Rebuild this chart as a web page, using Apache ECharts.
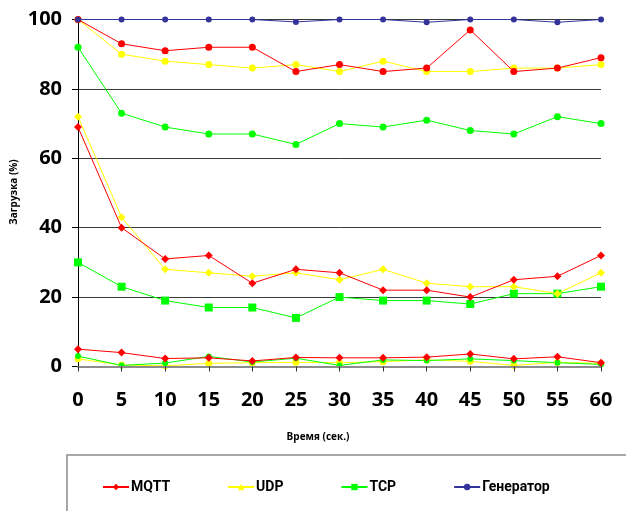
<!DOCTYPE html>
<html>
<head>
<meta charset="utf-8">
<script src="https://cdn.jsdelivr.net/npm/echarts@6/dist/echarts.min.js"></script>
<style>
  html, body { margin: 0; padding: 0; background: #fff; }
  #chart { width: 626px; height: 511px; }
</style>
</head>
<body>
<div id="chart"></div>
<script>
// Time axis (seconds)
const timeLabels = ['0', '5', '10', '15', '20', '25', '30', '35', '40', '45', '50', '55', '60'];

// Load (%) per protocol, three runs each
const mqttHigh = [100, 93, 91, 92, 92, 85, 87, 85, 86, 97, 85, 86, 89];
const mqttMid  = [69, 40, 31, 32, 24, 28, 27, 22, 22, 20, 25, 26, 32];
const mqttLow  = [5, 4, 2.3, 2.5, 1.6, 2.6, 2.5, 2.5, 2.7, 3.6, 2.2, 2.8, 1.1];

const udpHigh = [100, 90, 88, 87, 86, 87, 85, 88, 85, 85, 86, 86, 87];
const udpMid  = [72, 43, 28, 27, 26, 27, 25, 28, 24, 23, 23, 21, 27];
const udpLow  = [2.2, 0.4, 0.2, 0.9, 1.1, 1.2, 1.1, 1.4, 1.9, 1.5, 0.3, 1.2, 0.9];

const tcpHigh = [92, 73, 69, 67, 67, 64, 70, 69, 71, 68, 67, 72, 70];
const tcpMid  = [30, 23, 19, 17, 17, 14, 20, 19, 19, 18, 21, 21, 23];
const tcpLow  = [3, 0.3, 1.0, 2.9, 1.3, 2.4, 0.3, 1.9, 1.7, 2.2, 1.7, 1.1, 0.6];

const generator = [100, 100, 100, 100, 100, 99.3, 100, 100, 99.2, 100, 100, 99.2, 100];

const yTicks = { min: 0, max: 100, interval: 20 };

const RED = '#ff0000', YELLOW = '#ffff00', GREEN = '#00ff00', BLUE = '#333399';
const FONT = '"Open Sans", "DejaVu Sans", sans-serif';
const LEGEND_FONT = 'Roboto, "Open Sans", sans-serif';

function line(name, data, color, symbol, size, z) {
  return {
    name: name,
    type: 'line',
    data: data,
    symbol: symbol,
    symbolSize: size,
    showSymbol: true,
    lineStyle: { color: color, width: 1 },
    itemStyle: { color: color },
    emphasis: { disabled: true },
    animation: false,
    z: z || 2
  };
}

const chart = echarts.init(document.getElementById('chart'), null, { renderer: 'canvas' });

chart.setOption({
  backgroundColor: '#ffffff',
  animation: false,
  grid: { left: 78, right: 25, top: 19.5, bottom: 144.5, containLabel: false },
  xAxis: {
    type: 'category',
    data: timeLabels,
    boundaryGap: false,
    axisLine: { show: true, lineStyle: { color: '#8c8c8c', width: 2 } },
    axisTick: { show: true, alignWithLabel: true, length: 5, lineStyle: { color: '#333', width: 1 } },
    axisLabel: { fontFamily: FONT, fontWeight: 'bold', fontSize: 20, color: '#000', margin: 24 },
    splitLine: { show: false },
    z: 3
  },
  yAxis: {
    type: 'value',
    min: yTicks.min,
    max: yTicks.max,
    interval: yTicks.interval,
    axisLine: { show: true, onZero: false, lineStyle: { color: '#000', width: 1 } },
    axisTick: { show: true, length: 6, lineStyle: { color: '#000' } },
    axisLabel: { fontFamily: FONT, fontWeight: 'bold', fontSize: 20, color: '#000', margin: 16 },
    splitLine: { show: true, lineStyle: { color: '#3a3a3a', width: 1 } }
  },
  legend: {
    left: 97,
    top: 475,
    itemWidth: 26,
    itemHeight: 8,
    itemGap: 57,
    data: ['MQTT', 'UDP', 'TCP', 'Генератор'],
    textStyle: { fontFamily: LEGEND_FONT, fontWeight: 'bold', fontSize: 14, color: '#000', padding: [0, 0, 0, -3] },
    selectedMode: false
  },
  graphic: [
    {
      type: 'rect',
      shape: { x: 67, y: 455, width: 600, height: 80 },
      style: { fill: 'none', stroke: '#8a8a8a', lineWidth: 1.5 },
      silent: true
    },
    {
      type: 'text',
      x: 318, y: 437,
      style: { text: 'Время (сек.)', fontFamily: FONT, fontWeight: 'bold', fontSize: 10, fill: '#000', align: 'center', verticalAlign: 'middle' },
      silent: true
    },
    {
      type: 'text',
      x: 14, y: 192,
      rotation: Math.PI / 2,
      style: { text: 'Загрузка (%)', fontFamily: FONT, fontWeight: 'bold', fontSize: 10, fill: '#000', align: 'center', verticalAlign: 'middle' },
      silent: true
    }
  ],
  series: [
    // legend keys (no points of their own)
    line('MQTT', [], RED, 'diamond', 8),
    line('UDP', [], YELLOW, 'triangle', 8),
    line('TCP', [], GREEN, 'rect', 7),
    line('Генератор', [], BLUE, 'circle', 6),

    line('UDP', udpLow, YELLOW, 'circle', 7, 2),
    line('TCP', tcpLow, GREEN, 'circle', 6, 2),
    line('MQTT', mqttLow, RED, 'diamond', 8, 3),

    line('TCP', tcpMid, GREEN, 'rect', 8, 2),
    line('UDP', udpMid, YELLOW, 'diamond', 8, 3),
    line('MQTT', mqttMid, RED, 'diamond', 8, 3),

    line('TCP', tcpHigh, GREEN, 'circle', 7, 2),
    line('UDP', udpHigh, YELLOW, 'circle', 7, 2),
    line('MQTT', mqttHigh, RED, 'circle', 7, 3),

    line('Генератор', generator, BLUE, 'circle', 6, 4)
  ]
});
</script>
</body>
</html>
